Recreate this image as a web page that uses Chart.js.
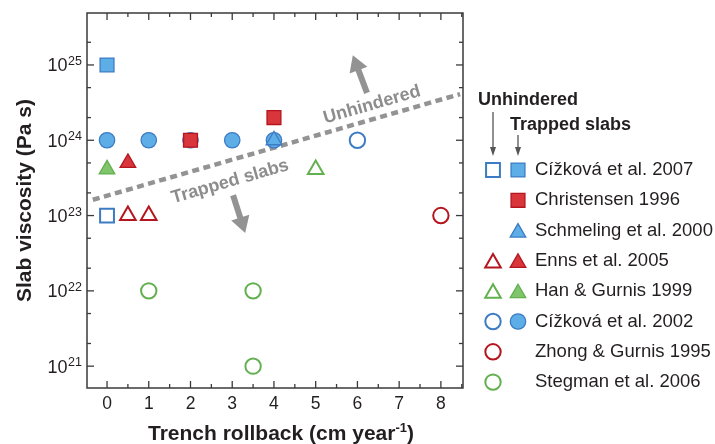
<!DOCTYPE html>
<html lang="en">
<head>
    <meta charset="utf-8" />
    <title>Slab viscosity vs trench rollback</title>
    <script src="https://cdn.jsdelivr.net/npm/chart.js@4.4.1/dist/chart.umd.min.js"></script>
    <style>
        body { margin: 0; background: #ffffff; }
        canvas { display: block; }
    </style>
</head>
<body>
<canvas id="chartCanvas" width="715" height="444"></canvas>
<script type="text/javascript">

    // trench rollback (cm/yr) vs slab viscosity (Pa s)
    const cizkova07Trapped = [{x: 0, y: 1e25}];
    const cizkova07Unhindered = [{x: 0, y: 1e23}];
    const christensen96 = [{x: 2, y: 1e24}, {x: 4, y: 2e24}];
    const schmeling00 = [{x: 4, y: 1e24}];
    const enns05Trapped = [{x: 0.5, y: 5.0e23}];
    const enns05Unhindered = [{x: 0.5, y: 1e23}, {x: 1, y: 1e23}];
    const han99Trapped = [{x: 0, y: 4.1e23}];
    const han99Unhindered = [{x: 5, y: 4.1e23}];
    const cizkova02Trapped = [{x: 0, y: 1e24}, {x: 1, y: 1e24}, {x: 2, y: 1e24}, {x: 3, y: 1e24}, {x: 4, y: 1e24}];
    const cizkova02Unhindered = [{x: 6, y: 1e24}];
    const zhong95 = [{x: 8, y: 1e23}];
    const stegman06 = [{x: 1, y: 1e22}, {x: 3.5, y: 1e22}, {x: 3.5, y: 1e21}];

    // dotted boundary between trapped and unhindered slabs
    const boundaryLine = [{x: -0.34, y: 1.62e23}, {x: 8.46, y: 4.1e24}];

    // axis ticks
    const xTickLabels = [0, 1, 2, 3, 4, 5, 6, 7, 8];
    const xMinorTicks = [0.5, 1.5, 2.5, 3.5, 4.5, 5.5, 6.5, 7.5, 8.5];
    const yDecades = [21, 22, 23, 24, 25];
    const yMinorFactors = [2, 5];

    const legendRows = ['Cížková et al. 2007', 'Christensen 1996', 'Schmeling et al. 2000', 'Enns et al. 2005',
        'Han & Gurnis 1999', 'Cížková et al. 2002', 'Zhong & Gurnis 1995', 'Stegman et al. 2006'];

    const FONT = '"Liberation Sans", Arial, Helvetica, sans-serif';
    const TEXT = '#231f20';
    const AXIS = '#3a3a3a';
    const GREY = '#939393';
    const colors = {
        blue: {fill: '#5dade6', line: '#3d7cc4'},
        red: {fill: '#d8363b', line: '#b4161f'},
        green: {fill: '#80c46c', line: '#62b04f'}
    };
    const radii = {rect: 9.8, circle: 7.7, triangle: 9};

    function markerSet(label, open, data, style, color, order) {
        return {
            label: label,
            open: open,
            data: data,
            order: order,
            pointStyle: style,
            pointRadius: radii[style],
            pointHoverRadius: radii[style],
            pointBackgroundColor: open ? '#ffffff' : colors[color].fill,
            pointBorderColor: colors[color].line,
            pointBorderWidth: open ? 2 : 1.3,
            showLine: false
        };
    }

    const datasets = [
        {
            label: 'boundary', data: boundaryLine, showLine: true, order: 20,
            borderColor: GREY, borderWidth: 4.5, borderDash: [7, 4.5], pointRadius: 0, fill: false
        },
        markerSet('Cížková et al. 2002', false, cizkova02Trapped, 'circle', 'blue', 10),
        markerSet('Cížková et al. 2002', true, cizkova02Unhindered, 'circle', 'blue', 10),
        markerSet('Cížková et al. 2007', false, cizkova07Trapped, 'rect', 'blue', 5),
        markerSet('Cížková et al. 2007', true, cizkova07Unhindered, 'rect', 'blue', 5),
        markerSet('Christensen 1996', false, christensen96, 'rect', 'red', 4),
        markerSet('Schmeling et al. 2000', false, schmeling00, 'triangle', 'blue', 4),
        markerSet('Enns et al. 2005', false, enns05Trapped, 'triangle', 'red', 5),
        markerSet('Enns et al. 2005', true, enns05Unhindered, 'triangle', 'red', 5),
        markerSet('Han & Gurnis 1999', false, han99Trapped, 'triangle', 'green', 5),
        markerSet('Han & Gurnis 1999', true, han99Unhindered, 'triangle', 'green', 5),
        markerSet('Zhong & Gurnis 1995', true, zhong95, 'circle', 'red', 5),
        markerSet('Stegman et al. 2006', true, stegman06, 'circle', 'green', 5)
    ];

    function line(ctx, x1, y1, x2, y2) {
        ctx.beginPath();
        ctx.moveTo(x1, y1);
        ctx.lineTo(x2, y2);
        ctx.stroke();
    }

    function arrow(ctx, x1, y1, x2, y2, shaft, headW, headL, color) {
        const ang = Math.atan2(y2 - y1, x2 - x1);
        const bx = x2 - Math.cos(ang) * headL, by = y2 - Math.sin(ang) * headL;
        ctx.strokeStyle = color;
        ctx.fillStyle = color;
        ctx.lineWidth = shaft;
        ctx.lineCap = 'butt';
        line(ctx, x1, y1, bx + Math.cos(ang), by + Math.sin(ang));
        const nx = -Math.sin(ang) * headW / 2, ny = Math.cos(ang) * headW / 2;
        ctx.beginPath();
        ctx.moveTo(x2, y2);
        ctx.lineTo(bx + nx, by + ny);
        ctx.lineTo(bx - nx, by - ny);
        ctx.closePath();
        ctx.fill();
    }

    // text with a raised part, e.g. 10^25
    function supText(ctx, base, sup, xRight, y, size, supSize, weight) {
        ctx.font = weight + ' ' + size + 'px ' + FONT;
        const w1 = ctx.measureText(base).width;
        ctx.font = weight + ' ' + supSize + 'px ' + FONT;
        const w2 = ctx.measureText(sup).width;
        ctx.textAlign = 'left';
        ctx.textBaseline = 'alphabetic';
        ctx.fillText(sup, xRight - w2, y - size * 0.36);
        ctx.font = weight + ' ' + size + 'px ' + FONT;
        ctx.fillText(base, xRight - w2 - w1 - 0.5, y);
    }

    const decorPlugin = {
        id: 'decor',
        beforeDatasetsDraw(chart) {
            const ctx = chart.ctx;
            const xs = chart.scales.x, ys = chart.scales.y;
            ctx.save();
            // annotations along the boundary
            const p1 = {x: xs.getPixelForValue(boundaryLine[0].x), y: ys.getPixelForValue(boundaryLine[0].y)};
            const p2 = {x: xs.getPixelForValue(boundaryLine[1].x), y: ys.getPixelForValue(boundaryLine[1].y)};
            const ang = Math.atan2(p2.y - p1.y, p2.x - p1.x);
            ctx.fillStyle = '#8d8d8d';
            ctx.font = 'bold 18px ' + FONT;
            ctx.textAlign = 'center';
            ctx.textBaseline = 'middle';
            [['Unhindered', 6.35, 24.47], ['Trapped slabs', 2.95, 23.45]].forEach(function (a) {
                ctx.save();
                ctx.translate(xs.getPixelForValue(a[1]), ys.getPixelForValue(Math.pow(10, a[2])));
                ctx.rotate(ang);
                ctx.fillText(a[0], 0, 0);
                ctx.restore();
            });
            arrow(ctx, xs.getPixelForValue(6.23), ys.getPixelForValue(Math.pow(10, 24.63)),
                xs.getPixelForValue(5.89), ys.getPixelForValue(Math.pow(10, 25.13)), 6, 19, 16, GREY);
            arrow(ctx, xs.getPixelForValue(3.02), ys.getPixelForValue(Math.pow(10, 23.27)),
                xs.getPixelForValue(3.31), ys.getPixelForValue(Math.pow(10, 22.77)), 6, 19, 16, GREY);
            ctx.restore();
        },
        afterDraw(chart) {
            const ctx = chart.ctx;
            const area = chart.chartArea;
            const xs = chart.scales.x, ys = chart.scales.y;
            ctx.save();
            // frame
            ctx.strokeStyle = AXIS;
            ctx.lineWidth = 1.5;
            ctx.strokeRect(area.left, area.top, area.right - area.left, area.bottom - area.top);
            // inward ticks on all four sides
            ctx.lineWidth = 1.3;
            xTickLabels.forEach(function (v) {
                const px = xs.getPixelForValue(v);
                line(ctx, px, area.bottom, px, area.bottom - 7);
                line(ctx, px, area.top, px, area.top + 7);
            });
            xMinorTicks.forEach(function (v) {
                if (v > xs.max) return;
                const px = xs.getPixelForValue(v);
                line(ctx, px, area.bottom, px, area.bottom - 4);
                line(ctx, px, area.top, px, area.top + 4);
            });
            yDecades.forEach(function (d) {
                const py = ys.getPixelForValue(Math.pow(10, d));
                line(ctx, area.left, py, area.left + 7, py);
                line(ctx, area.right, py, area.right - 7, py);
                yMinorFactors.forEach(function (f) {
                    const v = f * Math.pow(10, d);
                    if (v > ys.max) return;
                    const pm = ys.getPixelForValue(v);
                    line(ctx, area.left, pm, area.left + 4, pm);
                    line(ctx, area.right, pm, area.right - 4, pm);
                });
            });
            // tick labels
            ctx.fillStyle = TEXT;
            ctx.font = '17.5px ' + FONT;
            ctx.textAlign = 'center';
            ctx.textBaseline = 'middle';
            xTickLabels.forEach(function (v) {
                ctx.fillText(String(v), xs.getPixelForValue(v), area.bottom + 16);
            });
            yDecades.forEach(function (d) {
                supText(ctx, '10', String(d), area.left - 5, ys.getPixelForValue(Math.pow(10, d)) + 6.5, 18, 12.5, 'normal');
            });
            // axis titles
            ctx.font = 'bold 21px ' + FONT;
            ctx.textAlign = 'left';
            ctx.textBaseline = 'alphabetic';
            const t1 = 'Trench rollback (cm year', t2 = '-1', t3 = ')';
            const w1 = ctx.measureText(t1).width, w3 = ctx.measureText(t3).width;
            ctx.font = 'bold 13px ' + FONT;
            const w2 = ctx.measureText(t2).width;
            let tx = 281 - (w1 + w2 + w3) / 2;
            const ty = 440;
            ctx.font = 'bold 21px ' + FONT;
            ctx.fillText(t1, tx, ty);
            ctx.font = 'bold 13px ' + FONT;
            ctx.fillText(t2, tx + w1, ty - 8);
            ctx.font = 'bold 21px ' + FONT;
            ctx.fillText(t3, tx + w1 + w2, ty);

            ctx.save();
            ctx.translate(25, (area.top + area.bottom) / 2);
            ctx.rotate(-Math.PI / 2);
            ctx.textAlign = 'center';
            ctx.textBaseline = 'middle';
            ctx.fillText('Slab viscosity (Pa s)', 0, 0);
            ctx.restore();

            // legend
            const openX = 493, fillX = 518, textX = 535, rowY0 = 170, rowStep = 30.3;
            ctx.fillStyle = TEXT;
            ctx.font = 'bold 18px ' + FONT;
            ctx.textAlign = 'left';
            ctx.textBaseline = 'middle';
            ctx.fillText('Unhindered', 478, 100);
            ctx.fillText('Trapped slabs', 510, 125);
            arrow(ctx, openX, 112, openX, 156, 1.3, 6, 9, '#555555');
            arrow(ctx, fillX, 135, fillX, 156, 1.3, 6, 9, '#555555');
            legendRows.forEach(function (name, i) {
                const y = rowY0 + i * rowStep;
                chart.data.datasets.forEach(function (ds) {
                    if (ds.label !== name) return;
                    ctx.fillStyle = ds.pointBackgroundColor;
                    ctx.strokeStyle = ds.pointBorderColor;
                    ctx.lineWidth = ds.pointBorderWidth;
                    Chart.helpers.drawPoint(ctx, {
                        pointStyle: ds.pointStyle, radius: ds.pointRadius, rotation: 0, borderWidth: ds.pointBorderWidth
                    }, ds.open ? openX : fillX, y + (ds.pointStyle === 'triangle' ? 2 : 0));
                });
                ctx.fillStyle = TEXT;
                ctx.font = '18.5px ' + FONT;
                ctx.textAlign = 'left';
                ctx.textBaseline = 'middle';
                ctx.fillText(name, textX, y);
            });
            ctx.restore();
        }
    };

    const chartConfig = {
        type: 'scatter',
        data: {datasets: datasets},
        options: {
            responsive: false,
            animation: false,
            layout: {padding: {left: 0, top: 13, right: 252, bottom: 0}},
            plugins: {legend: {display: false}, tooltip: {enabled: false}},
            scales: {
                x: {
                    type: 'linear', min: -0.48, max: 8.53,
                    grid: {display: false}, border: {display: false}, ticks: {display: false},
                    afterFit: function (s) { s.height = 56; }
                },
                y: {
                    type: 'logarithmic', min: Math.pow(10, 20.71), max: Math.pow(10, 25.69),
                    grid: {display: false}, border: {display: false}, ticks: {display: false},
                    afterFit: function (s) { s.width = 87; }
                }
            }
        },
        plugins: [decorPlugin]
    };

    const plotChart = new Chart(document.getElementById('chartCanvas').getContext('2d'), chartConfig);
</script>
</body>
</html>
